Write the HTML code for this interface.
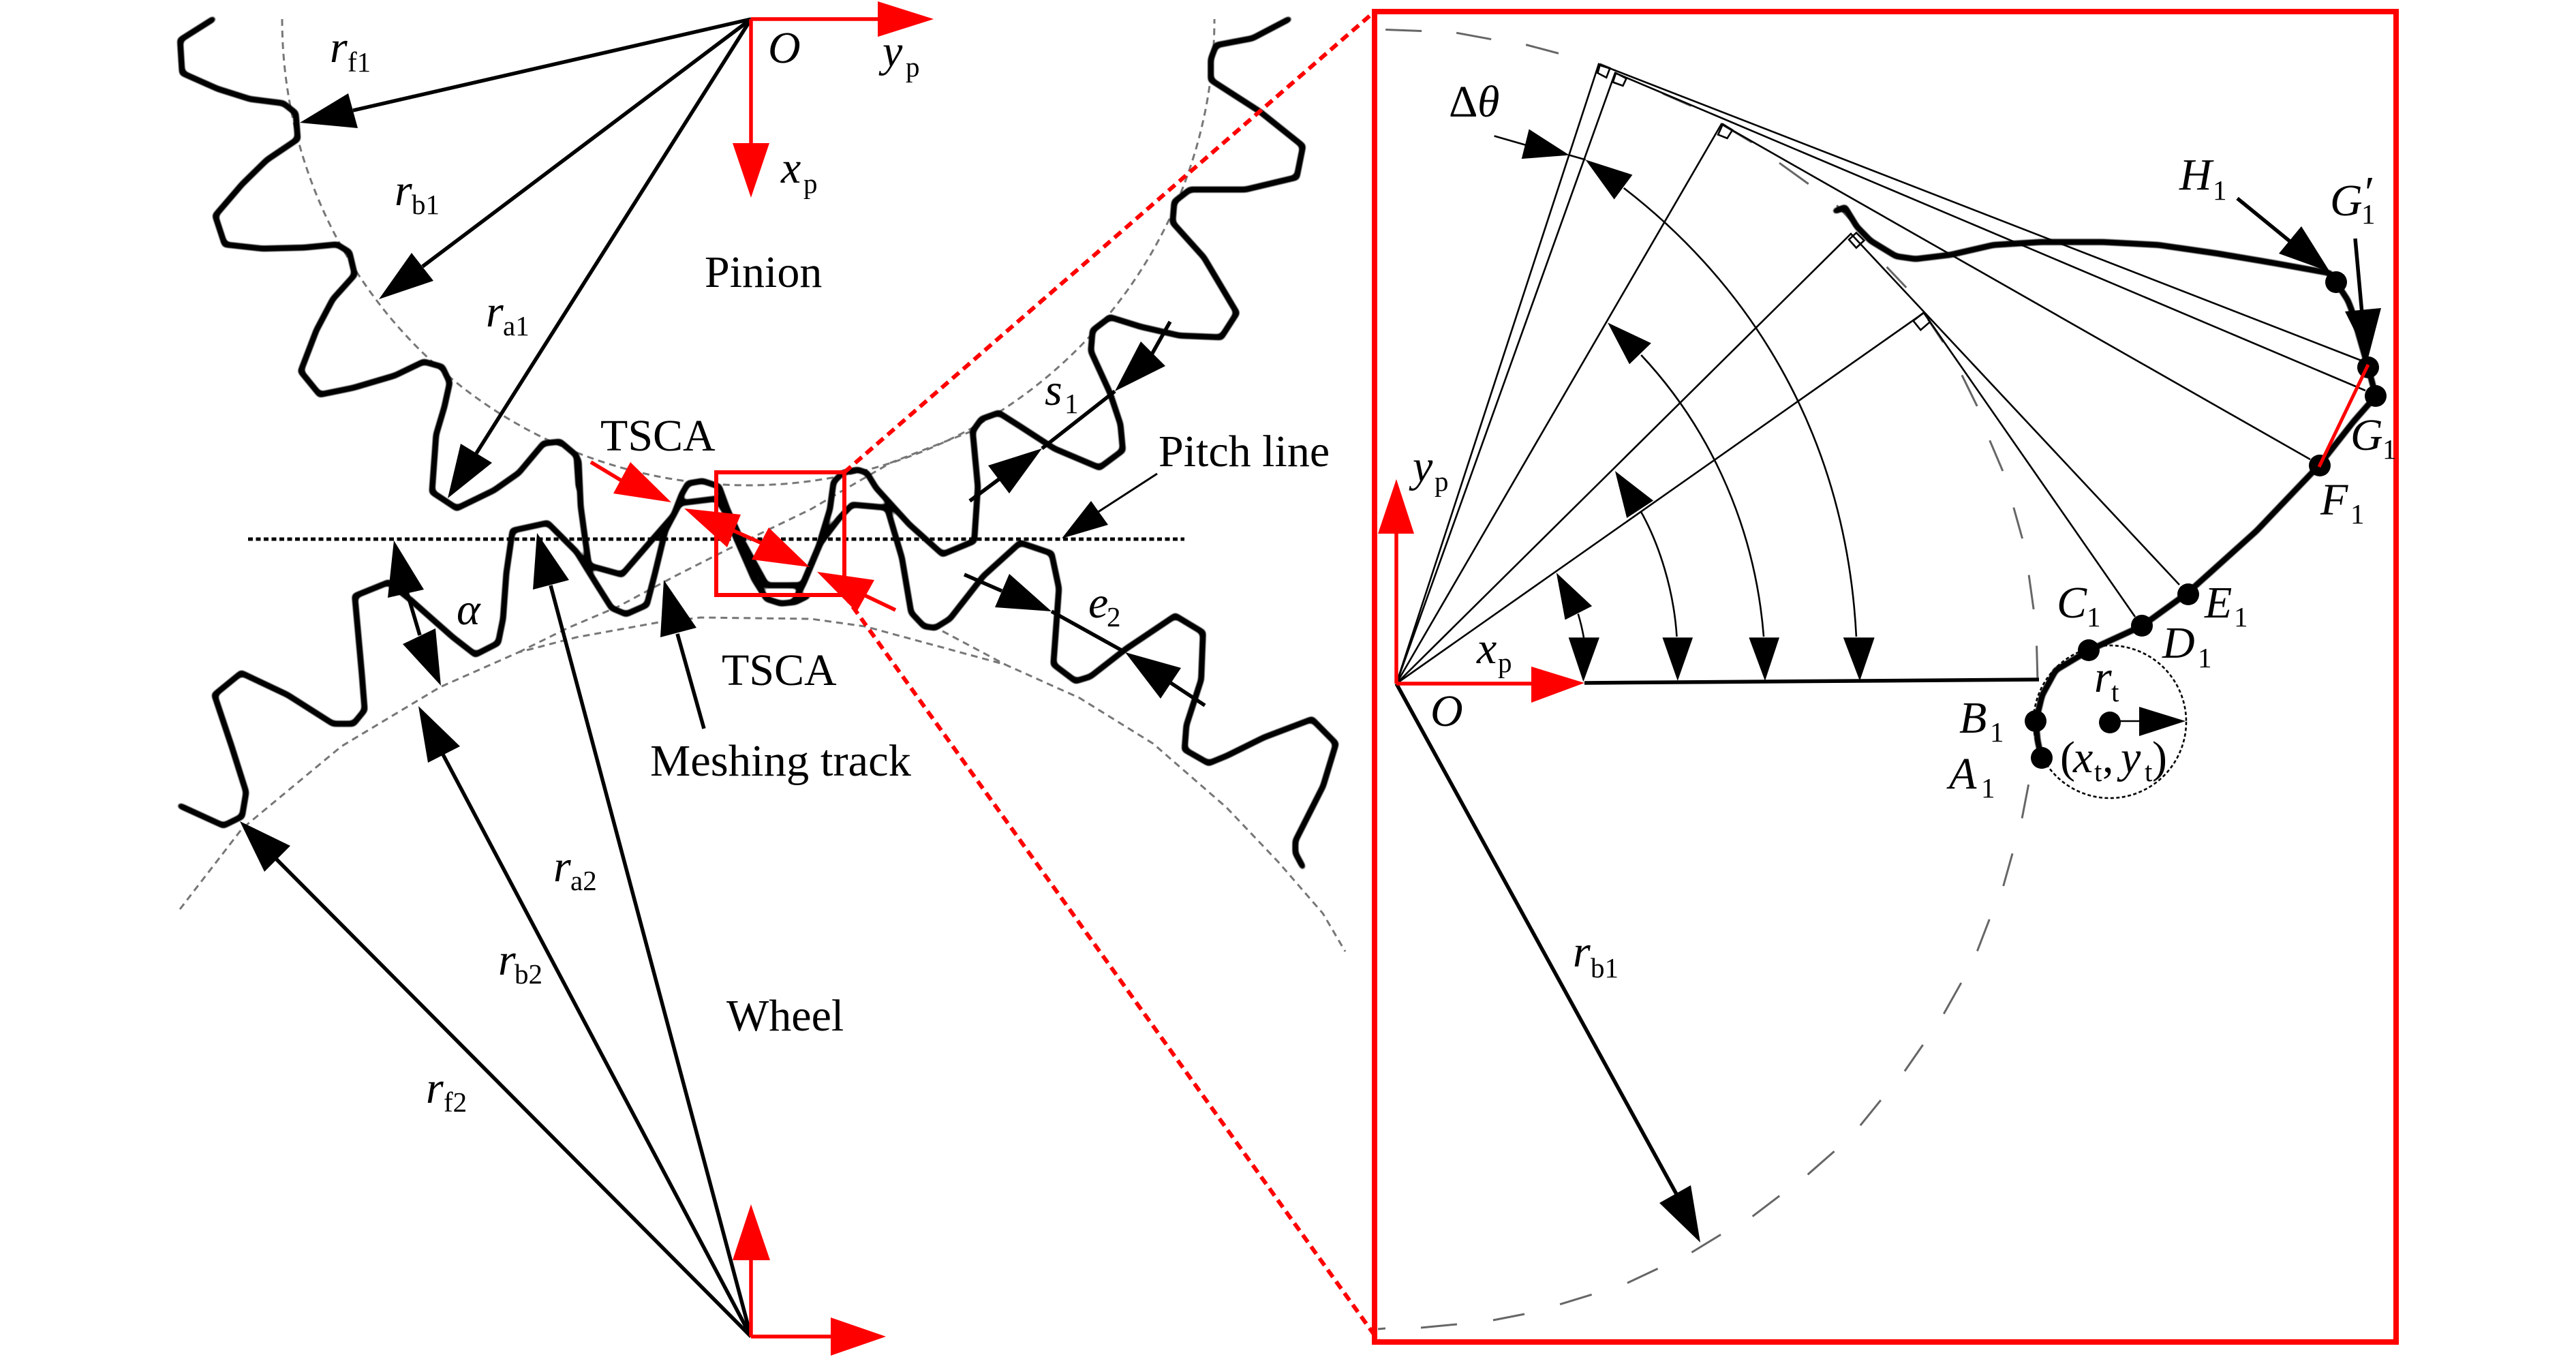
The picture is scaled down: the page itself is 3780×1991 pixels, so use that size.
<!DOCTYPE html>
<html><head><meta charset="utf-8"><style>
html,body{margin:0;padding:0;background:#fff}
svg{display:block}
text{font-family:"Liberation Serif",serif;fill:#000}
.t{font-size:66px}
.i{font-size:66px;font-style:italic}
.s{font-size:41px}
.ne{vector-effect:non-scaling-stroke}
.tooth{fill:none;stroke:#000;stroke-width:7;stroke-linejoin:round;stroke-linecap:round;vector-effect:non-scaling-stroke}
.thin{fill:none;stroke:#000;stroke-width:2.6;vector-effect:non-scaling-stroke}
.grey{fill:none;stroke:#777;stroke-width:3;stroke-dasharray:10 7}
.dash{fill:none;stroke:#666;stroke-width:3;vector-effect:non-scaling-stroke}
.bl{stroke:#000;stroke-width:5.5;fill:none}
.rd{stroke:#f00;stroke-width:5.5;fill:none}
.rdd{stroke:#f00;stroke-width:6;fill:none;stroke-dasharray:13 8}
</style></head><body>
<svg xmlns="http://www.w3.org/2000/svg" width="3780" height="1991" viewBox="0 0 3780 1991">
<defs>
<filter id="rnd" filterUnits="userSpaceOnUse" x="0" y="0" width="3780" height="1991" color-interpolation-filters="sRGB">
<feGaussianBlur stdDeviation="3.2"/>
<feComponentTransfer><feFuncA type="linear" slope="4" intercept="-1"/></feComponentTransfer>
</filter>
</defs>
<rect width="3780" height="1991" fill="#fff"/>

<!-- gear circles -->
<path class="grey" d="M414 28A684 684 0 0 0 1782 28"/>
<polyline class="grey" points="264,1334 355,1216 501,1095 646,1008 761,957 846,935 967,913 1028,906 1190,908 1269,919 1475,975 1584,1024 1692,1091 1800,1185 1876,1265 1941,1340 1974,1396"/>
<polyline class="grey" points="761,957 834,921 907,890 991,845 1070,805 1190,747 1231,723 1307,679 1425,633"/>
<polyline class="grey" points="1383,926 1475,975"/>

<!-- teeth -->
<g filter="url(#rnd)">
<g transform="translate(240,0) scale(.606,.5102)">
<polyline class="tooth" points="120,55 40,115 45,210 130,255 210,285 290,297 320,325 325,400 250,460 190,530 125,620 148,703 240,715 340,712 420,703 450,725 463,790 410,860 370,950 332,1068 378,1135 460,1115 560,1080 630,1040 675,1055 693,1100 680,1170 660,1250 650,1415 710,1462 800,1410 860,1360 920,1275 960,1270 1000,1310 1005,1400"/>
</g>
<g transform="translate(240,640) scale(.606,.4464)">
<polyline class="tooth" points="1005,80 1010,230 1020,330 1030,425 1110,455 1180,345 1235,260 1255,190 1270,155 1305,147 1345,165 1365,240 1395,330 1460,490 1540,490"/>
<polyline class="tooth" points="40,1215 145,1280 190,1250 200,1170 165,1020 123,850 188,778 300,850 410,945 460,945 487,900 480,780 463,525 545,480 600,540 700,660 755,718 810,680 822,600 830,450 845,310 930,285 1000,380 1050,490 1085,565 1120,585 1170,555 1190,450 1215,310 1250,220 1340,205 1365,260 1385,330 1430,470 1460,535 1495,550 1530,545 1560,525"/>
</g>
<g transform="translate(1150,640) scale(.5421,.4464)">
<polyline class="tooth" points="515,345 430,388 340,290 250,170 225,120 200,110 160,120 135,150 125,240 95,360 50,490 20,490"/>
<polyline class="tooth" points="30,540 55,480 100,350 150,270 185,225 280,235 320,400 345,580 380,625 410,630 450,600 540,460 640,350 725,385 745,500 730,750 790,805 830,790 925,700 1060,590 1135,645 1130,800 1090,950 1085,1030 1150,1075 1200,1050 1300,990 1430,930 1495,1010 1460,1150 1385,1330 1385,1370 1405,1415"/>
</g>
<g transform="translate(1190,0) scale(.5102)">
<polyline class="tooth" points="1375,55 1270,110 1165,130 1150,170 1150,230 1290,320 1415,420 1397,510 1250,545 1090,545 1045,580 1040,640 1130,740 1225,900 1180,970 1060,965 950,940 860,912 810,950 805,1010 860,1130 890,1220 897,1295 830,1345 700,1290 600,1225 540,1187 490,1205 465,1240 480,1400 470,1550"/>
</g>
</g>

<!-- pitch line -->
<line x1="364" y1="791" x2="1738" y2="791" stroke="#000" stroke-width="5" stroke-dasharray="7 4.5"/>

<!-- black dimension arrows, left -->
<line class="bl" x1="1102" y1="28" x2="518" y2="162"/>
<polygon points="440,180 511,137 525,188"/>
<line class="bl" x1="1102" y1="28" x2="620" y2="391"/>
<polygon points="556,439 604,371 636,412"/>
<line class="bl" x1="1102" y1="28" x2="699" y2="665"/>
<polygon points="657,731 676,651 722,679"/>

<line class="bl" x1="1102" y1="1961" x2="808" y2="859"/>
<polygon points="788,782 782,865 835,851"/>
<line class="bl" x1="1102" y1="1961" x2="650" y2="1107"/>
<polygon points="614,1036 628,1119 675,1095"/>
<line class="bl" x1="1102" y1="1961" x2="405" y2="1260"/>
<polygon points="352,1205 388,1279 426,1241"/>

<line class="bl" x1="597" y1="868" x2="616" y2="932"/>
<polygon points="578,793 569,877 622,865"/>
<polygon points="647,1006 591,945 639,922"/>

<line class="bl" x1="994" y1="930" x2="1033" y2="1069"/>
<polygon points="974,851 969,935 1022,921"/>

<line class="bl" x1="1717" y1="472" x2="1690" y2="520"/>
<polygon points="1636,574 1674,501 1710,537"/>
<line class="bl" x1="1636" y1="574" x2="1529" y2="658"/>
<polygon points="1529,658 1450,683 1481,724"/>
<line class="bl" x1="1466" y1="703" x2="1423" y2="735"/>

<line x1="1698" y1="695" x2="1610" y2="752" stroke="#000" stroke-width="3"/>
<polygon points="1558,790 1601,735 1626,770"/>

<line class="bl" x1="1415" y1="843" x2="1470" y2="867"/>
<polygon points="1543,897 1481,842 1460,891"/>
<line class="bl" x1="1543" y1="897" x2="1651" y2="957"/>
<polygon points="1651,957 1733,980 1703,1025"/>
<line class="bl" x1="1718" y1="1002" x2="1768" y2="1035"/>

<!-- red box and projection lines -->
<rect x="1051" y="693" width="188" height="180" fill="none" stroke="#f00" stroke-width="6"/>
<line class="rdd" x1="1239" y1="693" x2="2017" y2="17"/>
<line class="rdd" x1="1239" y1="873" x2="2022" y2="1966"/>
<rect x="2017" y="17" width="1499" height="1952" fill="none" stroke="#f00" stroke-width="8"/>

<!-- red axes left -->
<line class="rd" x1="1102" y1="28" x2="1300" y2="28"/>
<polygon fill="#f00" points="1370,28 1288,2 1288,54"/>
<line class="rd" x1="1102" y1="28" x2="1102" y2="260"/>
<polygon fill="#f00" points="1102,290 1075,210 1129,210"/>
<line class="rd" x1="1102" y1="1961" x2="1102" y2="1840"/>
<polygon fill="#f00" points="1102,1767 1075,1849 1130,1849"/>
<line class="rd" x1="1102" y1="1961" x2="1225" y2="1961"/>
<polygon fill="#f00" points="1300,1961 1219,1933 1219,1989"/>

<!-- red TSCA arrows -->
<line class="rd" x1="867" y1="678" x2="920" y2="710"/>
<polygon fill="#f00" points="985,737 925,678 900,724"/>
<polygon fill="#f00" points="1004,746 1087,755 1067,803"/>
<line class="rd" x1="1075" y1="778" x2="1120" y2="798"/>
<polygon fill="#f00" points="1188,832 1128,774 1103,821"/>
<polygon fill="#f00" points="1199,839 1283,851 1257,898"/>
<line class="rd" x1="1270" y1="874" x2="1314" y2="895"/>

<!-- right panel: dashed base circle -->
<g transform="translate(2000,0) scale(.6378,.6696)">
<path class="dash" d="M52 65L135 68M215 72L295 86M375 98L450 117M545 140L570 150M690 205L755 232M825 272L895 312M958 357L1025 403M1090 450L1150 510M1205 585L1250 630M1300 700L1335 750M1378 822L1413 890M1442 965L1472 1032M1497 1112L1517 1180M1532 1260L1543 1335M1550 1415L1552 1485"/>
</g>
<g transform="translate(2240,1100) scale(.6378,.5682)">
<path class="dash" d="M1155 90L1140 177M1118 268L1097 352M1065 438L1037 520M1000 602L960 682M912 762L870 830M815 905L768 970M708 1037L647 1097M582 1152L520 1205M447 1252L380 1298M302 1340L232 1377M150 1407L77 1432"/>
</g>
<path class="dash" d="M2237 1928L2191 1937M2138 1943L2085 1948M2033 1949L2022 1950"/>

<!-- thin construction lines -->
<g stroke="#000" stroke-width="2.6" fill="none">
<polyline points="2049,1003 2346,94 3465,529"/>
<polyline points="2049,1003 2370,107 3471,573"/>
<polyline points="2049,1003 2526,182 3390,674"/>
<polyline points="2049,1003 2716,343 3198,858"/>
<polyline points="2049,1003 2823,459 3133,905"/>
</g>

<g transform="translate(2000,0) scale(.6378,.6696)">
<polygon class="thin" points="545,143 568,150 560,170 540,160"/>
<polygon class="thin" points="582,160 606,172 598,188 575,180"/>
<polygon class="thin" points="828,272 850,285 838,303 817,295"/>
<polygon class="thin" points="1135,510 1153,527 1135,543 1118,525"/>
<polygon class="thin" points="1290,685 1305,705 1283,723 1266,703"/>
<!-- arcs -->
<path class="thin" d="M600 412C870 610 1110 930 1135 1395"/>
<polygon points="512,350 620,383 578,437"/>
<polygon points="1143,1492 1105,1397 1177,1397"/>
<path class="thin" d="M640 778C780 920 900 1130 922 1395"/>
<polygon points="563,707 663,752 613,798"/>
<polygon points="925,1492 888,1397 958,1397"/>
<path class="thin" d="M640 1122C680 1190 715 1290 722 1395"/>
<polygon points="580,1032 668,1097 607,1135"/>
<polygon points="724,1492 689,1397 759,1397"/>
<path class="thin" d="M495 1345Q503 1370 508 1397"/>
<polygon points="445,1255 527,1328 465,1358"/>
<polygon points="507,1494 473,1397 544,1397"/>
<!-- delta theta pointer -->
<polyline class="thin" points="302,298 375,318"/>
<polygon points="475,340 382,283 365,348"/>
<polyline class="thin" points="475,340 512,350"/>
</g>

<!-- thick baseline -->
<line class="bl" x1="2325" y1="1002" x2="2992" y2="997"/>

<!-- tooth profile in right panel -->
<g filter="url(#rnd)">
<g transform="translate(2650,150) scale(.574,.4145)">
<polyline class="tooth" points="75,385 100,372 130,440 165,490 230,545 280,555 370,540 480,505 600,495 760,495 900,505 1050,535 1200,570 1340,605 1385,700 1395,735 1437,938 1457,1040 1400,1130 1312,1285 1150,1520"/>
</g>
<g transform="translate(2850,780) scale(.3333)">
<polyline class="tooth" points="1380,0 1080,270 880,415 645,523 500,610 440,720 412,835 420,920 437,997"/>
</g>
</g>

<!-- tool circle -->
<circle cx="3096" cy="1059" r="112" fill="none" stroke="#000" stroke-width="2.6" stroke-dasharray="5 3.5"/>
<line x1="3096" y1="1058" x2="3145" y2="1058" stroke="#000" stroke-width="2.6"/>
<polygon points="3207,1058 3139,1037 3139,1080"/>

<!-- dots -->
<g fill="#000">
<circle cx="2996" cy="1112" r="16"/>
<circle cx="2987" cy="1058" r="16"/>
<circle cx="3065" cy="954" r="16"/>
<circle cx="3143" cy="918" r="16"/>
<circle cx="3211" cy="872" r="16"/>
<circle cx="3096" cy="1060" r="16"/>
<circle cx="3428" cy="414" r="16"/>
<circle cx="3475" cy="539" r="16"/>
<circle cx="3486" cy="581" r="16"/>
<circle cx="3404" cy="683" r="16"/>
</g>
<line x1="3475" y1="535" x2="3403" y2="685" stroke="#f00" stroke-width="5"/>

<!-- H1 / G1' arrows -->
<line class="bl" x1="3283" y1="291" x2="3365" y2="358"/>
<polygon points="3419,399 3377,332 3344,372"/>
<line class="bl" x1="3456" y1="350" x2="3466" y2="460"/>
<polygon points="3475,525 3441,457 3494,452"/>

<!-- r_b1 right -->
<line class="bl" x1="2049" y1="1003" x2="2460" y2="1752"/>
<polygon points="2495,1823 2435,1765 2481,1739"/>

<!-- right red axes -->
<line class="rd" x1="2049" y1="1003" x2="2255" y2="1003"/>
<polygon fill="#f00" points="2325,1002 2247,978 2247,1031"/>
<line class="rd" x1="2049" y1="1003" x2="2049" y2="775"/>
<polygon fill="#f00" points="2049,703 2022,783 2075,783"/>

<!-- left labels -->
<text class="i" x="484" y="91">r</text><text class="s" x="510" y="105">f1</text>
<text class="i" x="579" y="301">r</text><text class="s" x="604" y="314">b1</text>
<text class="i" x="713" y="479">r</text><text class="s" x="738" y="492">a1</text>
<text class="i" x="1127" y="92">O</text>
<text class="i" x="1146" y="268">x</text><text class="s" x="1179" y="283">p</text>
<text class="i" x="1295" y="97">y</text><text class="s" x="1329" y="112">p</text>
<text class="t" x="1034" y="421">Pinion</text>
<text class="t" x="881" y="661">TSCA</text>
<text class="t" x="1059" y="1005">TSCA</text>
<text class="t" x="1700" y="684">Pitch line</text>
<text class="t" x="954" y="1138" textLength="383" lengthAdjust="spacingAndGlyphs">Meshing track</text>
<text class="t" x="1066" y="1512">Wheel</text>
<text class="i" x="1533" y="594">s</text><text class="s" x="1562" y="606">1</text>
<text class="i" x="670" y="916">α</text>
<text class="i" x="1597" y="906">e</text><text class="s" x="1624" y="919">2</text>
<text class="i" x="812" y="1293">r</text><text class="s" x="837" y="1306">a2</text>
<text class="i" x="731" y="1430">r</text><text class="s" x="755" y="1443">b2</text>
<text class="i" x="625" y="1618">r</text><text class="s" x="651" y="1631">f2</text>

<!-- right labels -->
<text class="t" x="2126" y="171">Δ</text><text class="i" x="2168" y="171">θ</text>
<text class="i" x="2073" y="706">y</text><text class="s" x="2105" y="720">p</text>
<text class="i" x="2167" y="973">x</text><text class="s" x="2198" y="986">p</text>
<text class="i" x="2099" y="1065">O</text>
<text class="i" x="2308" y="1418">r</text><text class="s" x="2334" y="1434">b1</text>
<text class="i" x="3198" y="278">H</text><text class="s" x="3247" y="293">1</text>
<text class="i" x="3419" y="316">G</text><text class="i" x="3466" y="304">′</text><text class="s" x="3465" y="328">1</text>
<text class="i" x="3449" y="660">G</text><text class="s" x="3496" y="673">1</text>
<text class="i" x="3405" y="755">F</text><text class="s" x="3449" y="768">1</text>
<text class="i" x="3235" y="906">E</text><text class="s" x="3278" y="919">1</text>
<text class="i" x="3173" y="965">D</text><text class="s" x="3225" y="979">1</text>
<text class="i" x="3018" y="906">C</text><text class="s" x="3062" y="919">1</text>
<text class="i" x="2875" y="1075">B</text><text class="s" x="2920" y="1088">1</text>
<text class="i" x="2860" y="1157">A</text><text class="s" x="2907" y="1170">1</text>
<text class="i" x="3073" y="1015">r</text><text class="s" x="3098" y="1029">t</text>
<text class="t" x="3023" y="1133">(</text><text class="i" x="3042" y="1133">x</text><text class="s" x="3073" y="1146">t</text><text class="t" x="3085" y="1133">,</text><text class="i" x="3112" y="1133">y</text><text class="s" x="3147" y="1146">t</text><text class="t" x="3158" y="1133">)</text>
</svg>
</body></html>
